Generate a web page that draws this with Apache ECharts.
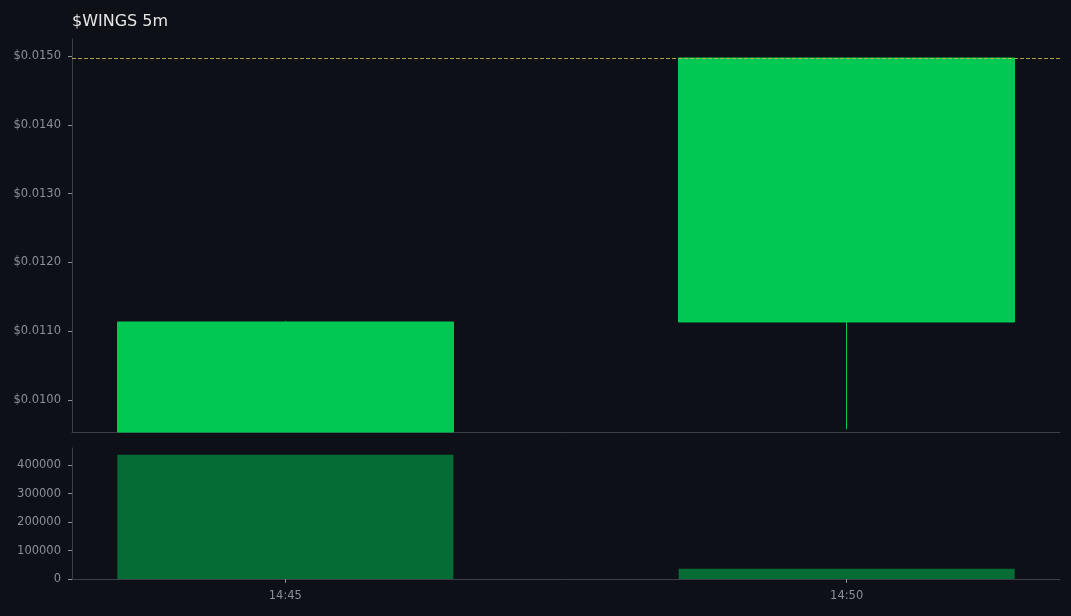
<!DOCTYPE html>
<html>
<head>
<meta charset="utf-8">
<script src="https://cdn.jsdelivr.net/npm/echarts@6/dist/echarts.min.js"></script>
<style>
html,body{margin:0;padding:0;background:#0d1017;}
#chart{width:1071px;height:616px;}
</style>
</head>
<body>
<div id="chart"></div>
<script>
// ---- data ----
const categories = ['14:45', '14:50'];
const xPositions = [0, 1];
// OHLC per candle
const candleOpen  = [0.009535, 0.011134];
const candleClose = [0.011134, 0.014971];
const candleLow   = [0.009535, 0.009574];
const candleHigh  = [0.011150, 0.014971];
const volumes = [436000, 36000];
const lastPrice = 0.014971;
const priceTicks = [0.0100, 0.0110, 0.0120, 0.0130, 0.0140, 0.0150];
const volumeTicks = [0, 100000, 200000, 300000, 400000];
const titleText = '$WINGS 5m';

const candleData = xPositions.map((x, i) => [x, candleOpen[i], candleClose[i], candleLow[i], candleHigh[i]]);
const volumeData = xPositions.map((x, i) => [x, volumes[i]]);

const axisColor = '#3a3e46';
const labelColor = '#8a8f98';
const green = '#00c853';
const font = 'DejaVu Sans';
const labelSize = 11.5;

const chart = echarts.init(document.getElementById('chart'), null, {renderer: 'canvas'});
chart.setOption({
  backgroundColor: '#0d1017',
  animation: false,
  title: {
    text: titleText, left: 67, top: 9,
    textStyle: {color: '#e6e6e6', fontSize: 16, fontWeight: 'normal', fontFamily: font}
  },
  grid: [
    {left: 72, right: 11, top: 39, bottom: 184},
    {left: 72, right: 11, top: 448, bottom: 37}
  ],
  xAxis: [
    {
      type: 'value', gridIndex: 0, min: -0.38, max: 1.38,
      axisLine: {show: true, onZero: false, lineStyle: {color: axisColor}},
      axisTick: {show: false}, axisLabel: {show: false}, splitLine: {show: false}
    },
    {
      type: 'value', gridIndex: 1, min: -0.38, max: 1.38,
      axisLine: {show: true, onZero: false, lineStyle: {color: axisColor}},
      axisTick: {show: true, length: 4, lineStyle: {color: labelColor}, customValues: xPositions},
      axisLabel: {
        color: labelColor, fontSize: labelSize, fontFamily: font, margin: 11,
        customValues: xPositions,
        formatter: v => categories[Math.round(v)]
      },
      splitLine: {show: false}
    }
  ],
  yAxis: [
    {
      type: 'value', gridIndex: 0, min: 0.009535, max: 0.015247,
      axisLine: {show: true, onZero: false, lineStyle: {color: axisColor}},
      axisTick: {show: true, length: 4, lineStyle: {color: labelColor}, customValues: priceTicks},
      axisLabel: {
        color: labelColor, fontSize: labelSize, fontFamily: font, margin: 11,
        customValues: priceTicks,
        formatter: v => '$' + v.toFixed(4)
      },
      splitLine: {show: false}
    },
    {
      type: 'value', gridIndex: 1, min: 0, max: 460000,
      axisLine: {show: true, onZero: false, lineStyle: {color: axisColor}},
      axisTick: {show: true, length: 4, lineStyle: {color: labelColor}, customValues: volumeTicks},
      axisLabel: {
        color: labelColor, fontSize: labelSize, fontFamily: font, margin: 11,
        customValues: volumeTicks,
        formatter: v => String(v)
      },
      splitLine: {show: false}
    }
  ],
  series: [
    {
      type: 'candlestick', xAxisIndex: 0, yAxisIndex: 0,
      barWidth: 336, clip: true,
      encode: {x: 0, y: [1, 2, 3, 4]},
      data: candleData,
      itemStyle: {color: green, color0: '#ff3b3b', borderColor: green, borderColor0: '#ff3b3b', borderWidth: 1}
    },
    {
      type: 'scatter', xAxisIndex: 0, yAxisIndex: 0,
      symbolSize: 0, silent: true,
      data: [[xPositions[1], lastPrice]],
      markLine: {
        silent: true, symbol: ['none', 'none'], precision: 6,
        label: {show: false},
        lineStyle: {color: '#c9b847', type: [4, 2], width: 1, opacity: 0.85},
        data: [{yAxis: lastPrice}]
      }
    },
    {
      type: 'bar', xAxisIndex: 1, yAxisIndex: 1,
      barWidth: 336,
      data: volumeData,
      itemStyle: {color: green, opacity: 0.5}
    }
  ]
});
</script>
</body>
</html>
